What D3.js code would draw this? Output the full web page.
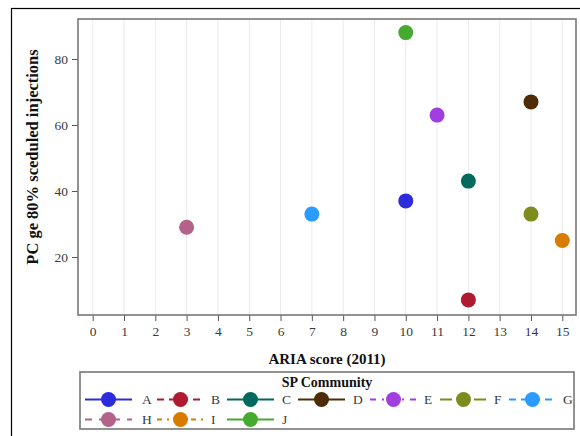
<!DOCTYPE html>
<html><head><meta charset="utf-8">
<script src="https://cdn.jsdelivr.net/npm/d3@7"></script>
<style>body{margin:0;background:#fff}</style>
</head><body>
<svg id="c" width="580" height="436"></svg>
<script>
const communities = ["A","B","C","D","E","F","G","H","I","J"];
const ariaScore = [10,12,12,14,11,14,7,3,15,10];
const pcValues = [37,7,43,67,63,33,33,29,25,88];
const colors = ["#2c2cdc","#b01a30","#006a5c","#4e2c06","#a23ee0","#7e8c1e","#2a9cff","#b3628a","#d87c00","#46aa30"];
const dashes = ["none","7,5","none","none","6,6,2,6","12,5","7,5","7,7","5,5,2,5","none"];
const xTicks = d3.range(0,16);
const yTicks = [20,40,60,80];

const svg = d3.select("#c");
const font = "'Liberation Serif', 'Times New Roman', serif";
const L=78, R=576, T=19, B=315;

// outer border
svg.append("rect").attr("x",11.5).attr("y",8.5).attr("width",600).attr("height",500)
  .attr("fill","none").attr("stroke","#000").attr("stroke-width",1.2);

const x = d3.scaleLinear().domain([-0.4696,15.4376]).range([L,R]);
const y = d3.scaleLinear().domain([2.42,92.12]).range([B,T]);

// grid
svg.append("g").selectAll("line").data(xTicks).join("line")
  .attr("x1",d=>x(d)).attr("x2",d=>x(d)).attr("y1",T).attr("y2",B)
  .attr("stroke","#ebebeb").attr("stroke-width",1);

// axes
const xAxis = svg.append("g").attr("transform",`translate(0,${B})`)
  .call(d3.axisBottom(x).tickValues(xTicks).tickSize(6).tickPadding(5));
const yAxis = svg.append("g").attr("transform",`translate(${L},0)`)
  .call(d3.axisLeft(y).tickValues(yTicks).tickSize(6).tickPadding(4));
[xAxis,yAxis].forEach(a=>{
  a.select(".domain").remove();
  a.selectAll(".tick line").attr("stroke","#555");
  a.selectAll("text").attr("font-family",font).attr("font-size",13.5).attr("fill","#3a3a3a");
});

// frame
svg.append("rect").attr("x",L).attr("y",T).attr("width",R-L).attr("height",B-T)
  .attr("fill","none").attr("stroke","#777").attr("stroke-width",1.6);

// points
svg.append("g").selectAll("circle").data(communities).join("circle")
  .attr("cx",(d,i)=>x(ariaScore[i])).attr("cy",(d,i)=>y(pcValues[i]))
  .attr("r",7.5).attr("fill",(d,i)=>colors[i]);

// axis titles
svg.append("text").attr("x",(L+R)/2).attr("y",364).attr("text-anchor","middle")
  .attr("font-family",font).attr("font-size",15).attr("font-weight","bold").attr("fill","#111")
  .text("ARIA score (2011)");
svg.append("text").attr("transform",`translate(38,157) rotate(-90)`).attr("text-anchor","middle")
  .attr("font-family",font).attr("font-size",16.5).attr("font-weight","bold").attr("fill","#111")
  .text("PC ge 80% sceduled injections");

// legend
svg.append("rect").attr("x",80).attr("y",372).attr("width",494).attr("height",57)
  .attr("fill","none").attr("stroke","#777").attr("stroke-width",1.6);
svg.append("text").attr("x",327).attr("y",386.5).attr("text-anchor","middle")
  .attr("font-family",font).attr("font-size",14).attr("font-weight","bold").attr("fill","#111")
  .text("SP Community");
const colX = [85,157,227,298,370,440,509];
const labX = [142,211,282,353,424,494,563];
const rowY = [399.5,419.5];
const leg = svg.append("g").selectAll("g").data(communities).join("g")
  .attr("transform",(d,i)=>`translate(${colX[i%7]},${rowY[Math.floor(i/7)]})`);
leg.append("line").attr("x1",0).attr("x2",47).attr("y1",0).attr("y2",0)
  .attr("stroke",(d,i)=>colors[i]).attr("stroke-width",2)
  .attr("stroke-dasharray",(d,i)=>dashes[i]==="none"?null:dashes[i]);
leg.append("circle").attr("cx",23.5).attr("cy",0).attr("r",7.5).attr("fill",(d,i)=>colors[i]);
leg.append("text").attr("x",(d,i)=>labX[i%7]-colX[i%7]).attr("y",4.5)
  .attr("font-family",font).attr("font-size",13.5).attr("fill","#3a3a3a").text(d=>d);
</script>
</body></html>
